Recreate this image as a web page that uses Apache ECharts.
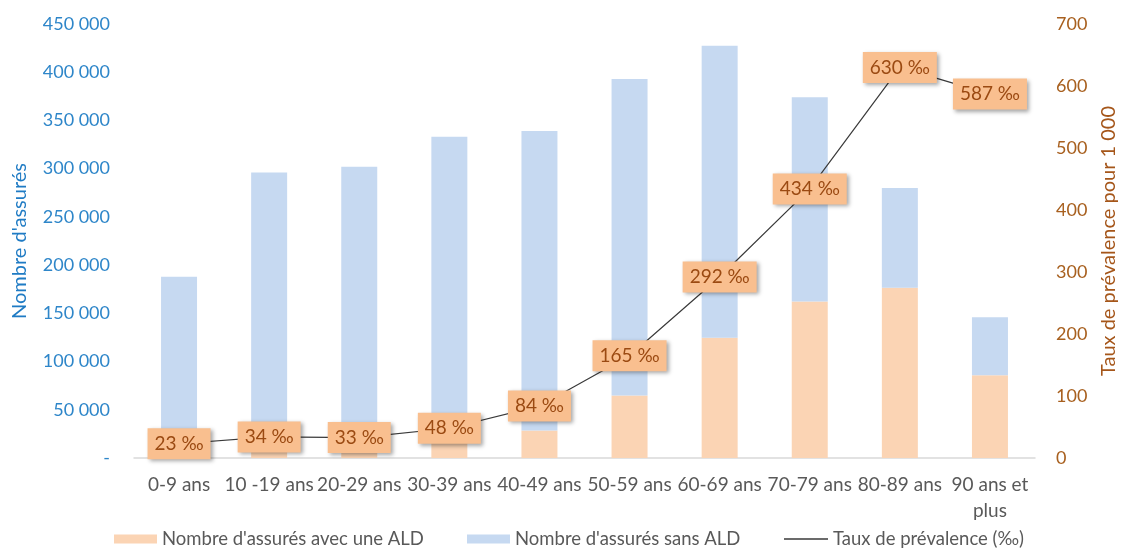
<!DOCTYPE html>
<html>
<head>
<meta charset="utf-8">
<script src="https://cdn.jsdelivr.net/npm/echarts@6/dist/echarts.min.js"></script>
<style>
  html, body { margin: 0; padding: 0; background: #fff; }
  #chart { width: 1121px; height: 549px; }
</style>
</head>
<body>
<div id="chart"></div>
<script>
// Age groups
const categories = ['0-9 ans', '10 -19 ans', '20-29 ans', '30-39 ans', '40-49 ans',
  '50-59 ans', '60-69 ans', '70-79 ans', '80-89 ans', '90 ans et\nplus'];

// Insured people with a long-term illness (ALD)
const avecALD = [4300, 10000, 10000, 16000, 28500, 64800, 124700, 162300, 176400, 85700];
// Insured people without ALD
const sansALD = [183700, 286000, 292000, 317000, 310500, 328200, 302800, 211700, 103600, 60300];
// Prevalence rate per 1 000
const prevalence = [23, 34, 33, 48, 84, 165, 292, 434, 630, 587];

const legendNames = ["Nombre d'assurés avec une ALD", "Nombre d'assurés sans ALD", 'Taux de prévalence (‰)'];

const FONT = 'Lato, "Noto Sans", sans-serif';
const fmtThousands = v => v === 0 ? '-' : String(v).replace(/\B(?=(\d{3})+(?!\d))/g, ' ');

const chart = echarts.init(document.getElementById('chart'), null, { renderer: 'canvas' });

const legendText = { color: '#595959', fontSize: 18.5, lineHeight: 20, fontFamily: FONT };

chart.setOption({
  animation: false,
  textStyle: { fontFamily: FONT },
  grid: { left: 134, right: 86, top: 24, bottom: 91, containLabel: false, outerBoundsMode: 'none' },
  legend: [
    { data: [legendNames[0]], left: 109, top: 524, icon: 'rect', itemWidth: 43, itemHeight: 9,
      itemGap: 0, textStyle: legendText },
    { data: [legendNames[1]], left: 462, top: 524, icon: 'rect', itemWidth: 43, itemHeight: 9,
      textStyle: legendText },
    { data: [legendNames[2]], left: 779, top: 524, icon: 'rect', itemWidth: 44, itemHeight: 1.5,
      textStyle: legendText }
  ],
  xAxis: {
    type: 'category',
    data: categories,
    axisLine: { lineStyle: { color: '#D9D9D9', width: 1.5 } },
    axisTick: { show: false },
    axisLabel: { color: '#595959', fontSize: 19, margin: 14, interval: 0, lineHeight: 26, fontFamily: FONT }
  },
  yAxis: [
    {
      type: 'value', min: 0, max: 450000, interval: 50000,
      splitLine: { show: false },
      axisLine: { show: false }, axisTick: { show: false },
      axisLabel: { color: '#2E86C9', fontSize: 18, margin: 24, formatter: fmtThousands, fontFamily: FONT },
      name: "Nombre d'assurés", nameLocation: 'middle', nameGap: 104, nameRotate: 90,
      nameTextStyle: { color: '#1F7BC4', fontSize: 20, fontFamily: FONT }
    },
    {
      type: 'value', min: 0, max: 700, interval: 100,
      splitLine: { show: false },
      axisLine: { show: false }, axisTick: { show: false },
      axisLabel: { color: '#A8601F', fontSize: 18, margin: 21, fontFamily: FONT },
      name: 'Taux de prévalence pour 1 000', nameLocation: 'middle', nameGap: 64, nameRotate: 90,
      nameTextStyle: { color: '#A5561A', fontSize: 20, fontFamily: FONT }
    }
  ],
  series: [
    {
      name: legendNames[0], type: 'bar', stack: 'total', barWidth: 36,
      itemStyle: { color: '#FBD4B4' }, data: avecALD, z: 2
    },
    {
      name: legendNames[1], type: 'bar', stack: 'total', barWidth: 36,
      itemStyle: { color: '#C6D9F1' }, data: sansALD, z: 2
    },
    {
      name: legendNames[2], type: 'line', yAxisIndex: 1, data: prevalence, z: 5,
      symbol: 'circle', symbolSize: 1, showSymbol: true,
      lineStyle: { color: '#3A3A3A', width: 1.2 },
      itemStyle: { color: '#3A3A3A' },
      label: {
        show: true, position: 'inside',
        formatter: p => p.value + ' ‰',
        color: '#9B4A12', fontSize: 19, lineHeight: 20, fontFamily: FONT,
        backgroundColor: '#F9BF8F', padding: [6, 7, 5, 7],
        shadowColor: 'rgba(0,0,0,0.35)', shadowBlur: 4, shadowOffsetX: 2, shadowOffsetY: 2
      }
    }
  ]
});
</script>
</body>
</html>
